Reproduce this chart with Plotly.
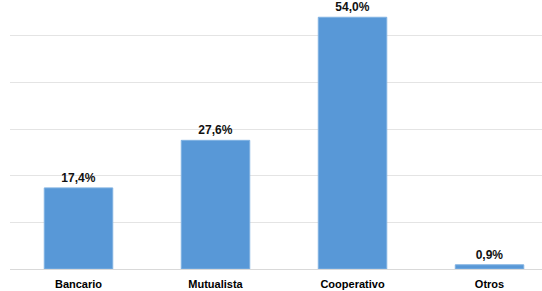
import plotly.graph_objects as go

categories = ["Bancario", "Mutualista", "Cooperativo", "Otros"]
values = [17.4, 27.6, 54.0, 0.9]

fig = go.Figure()
fig.add_trace(go.Bar(
    x=categories,
    y=values,
    width=0.5,
    marker=dict(color="#5898d7", line=dict(color="#80b2e2", width=1)),
    texttemplate="%{y:.1f}%",
    textposition="outside",
    textfont=dict(family="Liberation Sans, Arial", size=12, color="#111111", weight="bold"),
    cliponaxis=False,
))

fig.update_layout(
    width=542, height=291,
    margin=dict(l=10, r=0, t=0, b=22),
    paper_bgcolor="white",
    plot_bgcolor="white",
    separators=",.",
    showlegend=False,
    font=dict(family="Liberation Sans, Arial", size=12, color="#000000"),
    bargap=0.5,
)
fig.update_xaxes(
    range=[-0.5, 3.383],
    showgrid=False,
    showline=False,
    ticks="",
    ticklabelstandoff=7,
    tickfont=dict(family="Liberation Sans, Arial", size=11, color="#000000", weight="bold"),
)
fig.update_yaxes(
    range=[0, 57.7],
    dtick=10,
    showgrid=True,
    gridcolor="#e4e4e4",
    gridwidth=1,
    zeroline=True,
    zerolinecolor="#d9d9d9",
    zerolinewidth=1,
    showticklabels=False,
    ticks="",
)

fig.write_html("out.html")
